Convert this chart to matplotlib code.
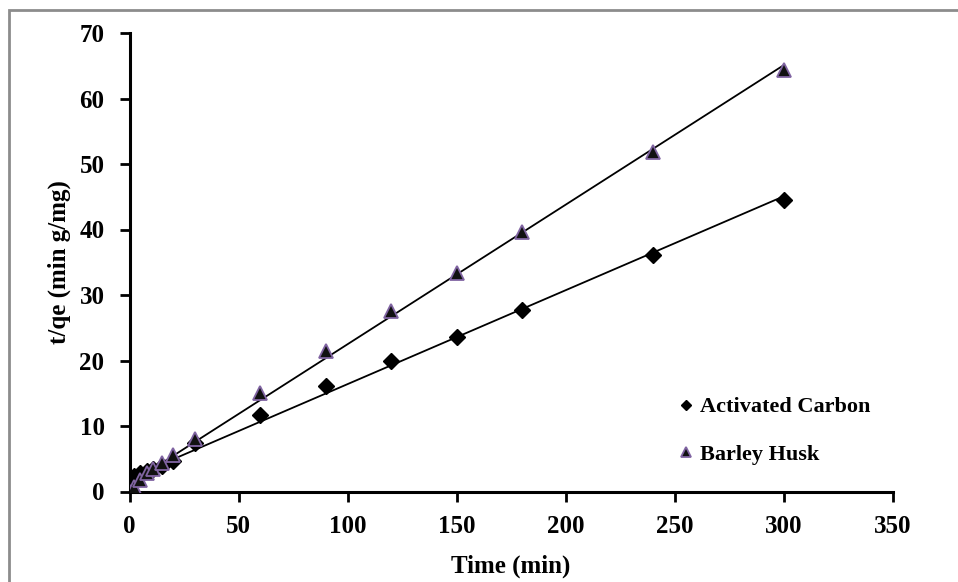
import numpy as np
import matplotlib.pyplot as plt
from matplotlib.patches import Rectangle

# contact time (min) and t/qe (min g/mg) for the two adsorbents
time_min = [0, 2, 5, 8, 11, 15, 20, 30, 60, 90, 120, 150, 180, 240, 300]
t_qe_carbon = [0.0, 2.4, 2.8, 3.1, 3.4, 3.9, 4.6, 7.4, 11.7, 16.1, 20.0, 23.6, 27.7, 36.1, 44.5]
t_qe_barley = [0.0, 0.7, 1.8, 2.8, 3.5, 4.3, 5.6, 8.0, 15.0, 21.5, 27.5, 33.4, 39.6, 51.9, 64.3]

x_ticks = [0, 50, 100, 150, 200, 250, 300, 350]
y_ticks = [0, 10, 20, 30, 40, 50, 60, 70]

plt.rcParams['font.family'] = ['Liberation Serif', 'DejaVu Serif']
plt.rcParams['font.weight'] = 'bold'

W, H = 958, 582
fig = plt.figure(figsize=(W / 100, H / 100), dpi=100)
ax = fig.add_axes([129.5 / W, 1 - 491.5 / H, 763 / W, 458.5 / H])

# outer frame of the figure
fig.patches.append(Rectangle((9 / W, -0.1), 1.2, 1 - 10 / H + 0.1,
                             transform=fig.transFigure, fill=False,
                             edgecolor='#8c8c8c', linewidth=2))

t = np.array(time_min)
for vals in (t_qe_carbon, t_qe_barley):
    k, b = np.polyfit(t, np.array(vals), 1)
    ax.plot([0, 300], [b, k * 300 + b], color='black', linewidth=1.3, zorder=2)

ax.plot(time_min, t_qe_carbon, linestyle='none', marker='D', markersize=8,
        color='black', label='Activated Carbon', zorder=3)
ax.plot(time_min, t_qe_barley, linestyle='none', marker='^', markersize=10,
        markerfacecolor='#111111', markeredgecolor='#8064a2', markeredgewidth=1.3,
        label='Barley Husk', zorder=4)

ax.set_xlim(0, 350)
ax.set_ylim(0, 70)
ax.set_xticks(x_ticks)
ax.set_yticks(y_ticks)
ax.spines['top'].set_visible(False)
ax.spines['right'].set_visible(False)
for s in ('left', 'bottom'):
    ax.spines[s].set_linewidth(2.2)
ax.tick_params(direction='out', length=7, width=2, labelsize=18)
ax.tick_params(axis='x', pad=10)
ax.tick_params(axis='y', pad=11)
for lbl in ax.get_xticklabels() + ax.get_yticklabels():
    lbl.set_fontweight('bold')

ax.set_xlabel('Time (min)', fontsize=18, fontweight='bold', labelpad=12)
ax.set_ylabel('t/qe (min g/mg)', fontsize=18, fontweight='bold', labelpad=6)

leg = ax.legend(loc='upper left', bbox_to_anchor=(0.695, 0.25), frameon=False,
                handlelength=0.6, handletextpad=0.3, labelspacing=1.2,
                markerscale=0.7, prop={'weight': 'bold', 'size': 16})

fig.savefig('out.png', dpi=100)
